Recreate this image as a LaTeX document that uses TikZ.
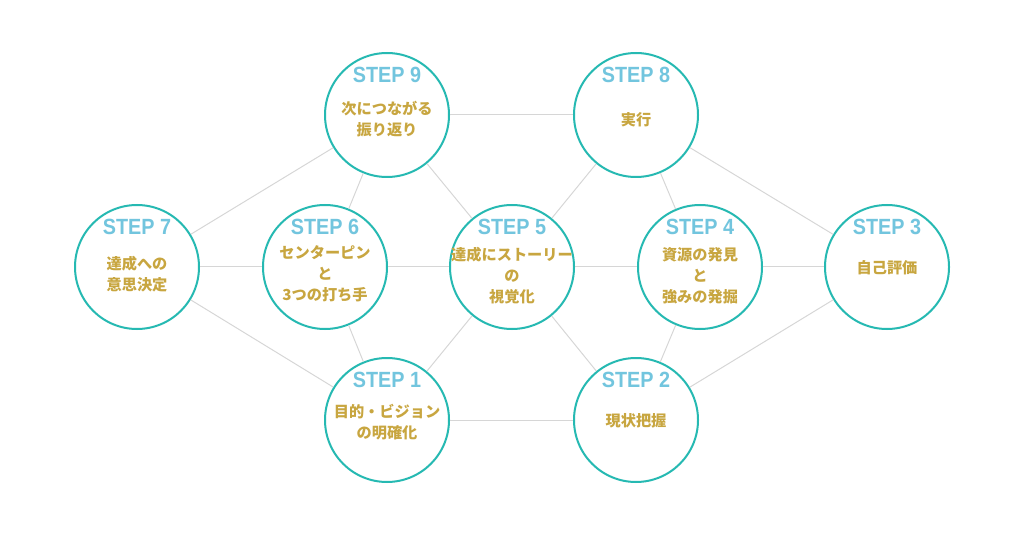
\documentclass[tikz,border=0pt]{standalone}
\usepackage{fontspec}
\setmainfont{Liberation Sans}
\newfontfamily\jpfont{Noto Sans CJK JP}
\newfontfamily\stepfont[FakeStretch=0.9]{Liberation Sans}
\usetikzlibrary{calc}
\definecolor{ringteal}{RGB}{38,185,178}
\definecolor{stepblue}{RGB}{114,197,222}
\definecolor{descgold}{RGB}{200,166,64}
\definecolor{edgegray}{RGB}{214,214,214}
\tikzset{
	stepcircle/.style={circle,draw=ringteal,line width=1.5pt,fill=white,minimum size=93pt,inner sep=0pt},
	steplbl/.style={font=\stepfont\bfseries\fontsize{16.5}{18}\selectfont,text=stepblue,inner sep=0pt},
	desc/.style={font=\jpfont\bfseries\fontsize{11.4}{15.8}\selectfont,text=descgold,align=center,inner sep=0pt}
}
\begin{document}
\begin{tikzpicture}[x=0.75pt,y=0.75pt]
	\useasboundingbox (0,0) rectangle (1024,536);
	\begin{scope}[every node/.style={stepcircle}]
	\node (s9) at (387,421) {};
	\node (s8) at (636,421) {};
	\node (s7) at (137,269) {};
	\node (s6) at (325,269) {};
	\node (s5) at (512,269) {};
	\node (s4) at (700,269) {};
	\node (s3) at (887,269) {};
	\node (s1) at (387,116) {};
	\node (s2) at (636,116) {};
	\end{scope}
	\begin{scope}[every edge/.style={draw=edgegray,line width=0.75pt}]
	\path (s9) edge (s8);
	\path (s9) edge (s7);
	\path (s9) edge (s6);
	\path (s9) edge (s5);
	\path (s8) edge (s5);
	\path (s8) edge (s4);
	\path (s8) edge (s3);
	\path (s7) edge (s6);
	\path (s6) edge (s5);
	\path (s5) edge (s4);
	\path (s4) edge (s3);
	\path (s7) edge (s1);
	\path (s6) edge (s1);
	\path (s5) edge (s1);
	\path (s5) edge (s2);
	\path (s4) edge (s2);
	\path (s3) edge (s2);
	\path (s1) edge (s2);
	\end{scope}
	% step numbers
	\node[steplbl] (l9) at ($(s9)+(0,40)$) {STEP 9};
	\node[steplbl] (l8) at ($(s8)+(0,40)$) {STEP 8};
	\node[steplbl] (l7) at ($(s7)+(0,40)$) {STEP 7};
	\node[steplbl] (l6) at ($(s6)+(0,40)$) {STEP 6};
	\node[steplbl] (l5) at ($(s5)+(0,40)$) {STEP 5};
	\node[steplbl] (l4) at ($(s4)+(0,40)$) {STEP 4};
	\node[steplbl] (l3) at ($(s3)+(0,40)$) {STEP 3};
	\node[steplbl] (l2) at ($(s2)+(0,40)$) {STEP 2};
	\node[steplbl] (l1) at ($(s1)+(0,40)$) {STEP 1};
	% contents
	\node[desc] (t9) at ($(s9)+(0,-4)$) {次につながる\\振り返り};
	\node[desc] (t8) at ($(s8)+(0,-5)$) {実行};
	\node[desc] (t7) at ($(s7)+(0,-7)$) {達成への\\意思決定};
	\node[desc] (t6) at ($(s6)+(0,-7)$) {センターピン\\と\\3つの打ち手};
	\node[desc] (t5) at ($(s5)+(0,-9)$) {達成にストーリー\\の\\視覚化};
	\node[desc] (t4) at ($(s4)+(0,-9)$) {資源の発見\\と\\強みの発掘};
	\node[desc] (t3) at ($(s3)+(0,-1)$) {自己評価};
	\node[desc] (t2) at ($(s2)+(0,-1)$) {現状把握};
	\node[desc] (t1) at ($(s1)+(0,-2)$) {目的・ビジョン\\の明確化};
\end{tikzpicture}
\end{document}
